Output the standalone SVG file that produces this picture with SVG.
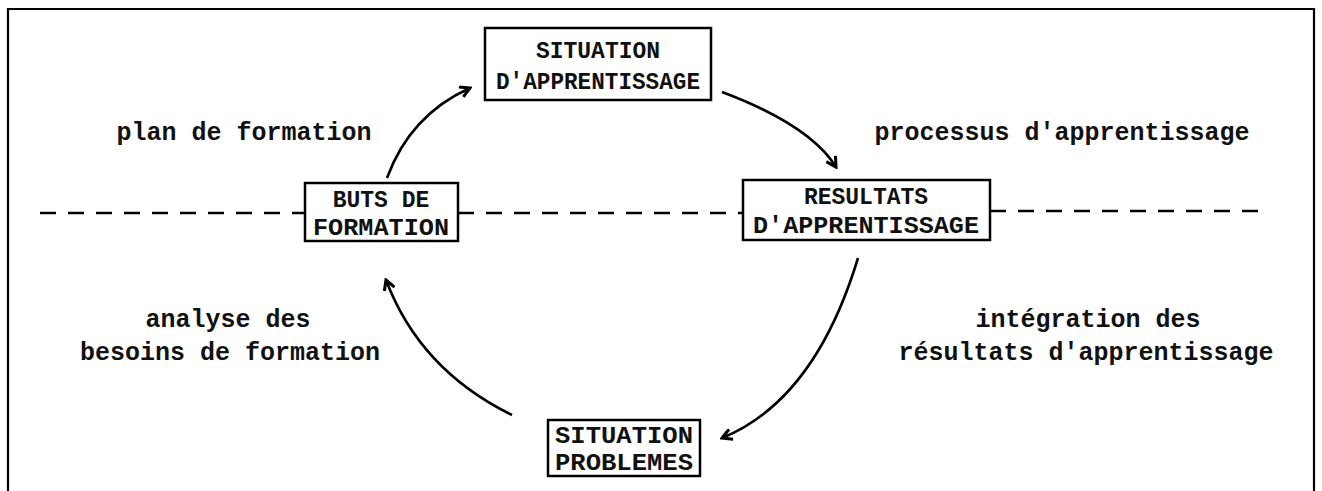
<svg xmlns="http://www.w3.org/2000/svg" width="1322" height="491" viewBox="0 0 1322 491">
<defs>
<style>
.frame{fill:none;stroke:#000;stroke-width:2.2}
.box{fill:#fff;stroke:#000;stroke-width:2.5}
.dash{stroke:#000;stroke-width:2.5;stroke-dasharray:16 12;fill:none}
.arc{fill:none;stroke:#000;stroke-width:2.6}
text{font-family:"Liberation Mono","Courier New",monospace;font-weight:bold;fill:#111}
.bt{font-size:23px;text-anchor:middle}
.lb{font-size:25px;text-anchor:middle}
</style>
<marker id="ah" viewBox="0 0 12 12" refX="10" refY="6" markerWidth="13" markerHeight="13" markerUnits="userSpaceOnUse" orient="auto">
<path d="M1,1 L10,6 L1,11" fill="none" stroke="#000" stroke-width="2.8" stroke-linejoin="miter"/>
</marker>
</defs>
<rect width="1322" height="491" fill="#fff"/>
<path class="frame" d="M8,491 L8,9 L1314,9 L1314,491"/>
<g id="connectors">
<path class="dash" d="M40,213 L305,213"/>
<path class="dash" d="M458,213 L743,213"/>
<path class="dash" d="M990,211 L1262,211"/>
<path class="arc" d="M387,178 Q410,115 470,88" marker-end="url(#ah)"/>
<path class="arc" d="M722,92 Q810,125 836,167" marker-end="url(#ah)"/>
<path class="arc" d="M858,258 Q815,400 722,438" marker-end="url(#ah)"/>
<path class="arc" d="M512,415 Q420,370 386,280" marker-end="url(#ah)"/>
</g>
<g id="n-situation-apprentissage">
<rect class="box" x="485" y="28" width="226" height="72"/>
<text class="bt" x="598" y="58">SITUATION</text>
<text class="bt" x="598" y="89" textLength="204" lengthAdjust="spacingAndGlyphs">D'APPRENTISSAGE</text>
</g>
<g id="n-buts">
<rect class="box" x="305" y="183" width="153" height="58"/>
<text class="bt" x="381" y="207">BUTS DE</text>
<text class="bt" x="381" y="235" textLength="136" lengthAdjust="spacingAndGlyphs">FORMATION</text>
</g>
<g id="n-resultats">
<rect class="box" x="743" y="180" width="247" height="60"/>
<text class="bt" x="866" y="204">RESULTATS</text>
<text class="bt" x="866" y="233" textLength="226" lengthAdjust="spacingAndGlyphs">D'APPRENTISSAGE</text>
</g>
<g id="n-situation-problemes">
<rect class="box" x="548" y="420" width="152" height="56"/>
<text class="bt" x="624" y="443" textLength="138" lengthAdjust="spacingAndGlyphs">SITUATION</text>
<text class="bt" x="624" y="470" textLength="138" lengthAdjust="spacingAndGlyphs">PROBLEMES</text>
</g>
<g id="labels">
<text class="lb" x="244" y="140">plan de formation</text>
<text class="lb" x="1062" y="140">processus d'apprentissage</text>
<text class="lb" x="228" y="327">analyse des</text>
<text class="lb" x="230" y="360">besoins de formation</text>
<text class="lb" x="1088" y="327">intégration des</text>
<text class="lb" x="1086" y="360">résultats d'apprentissage</text>
</g>
</svg>
